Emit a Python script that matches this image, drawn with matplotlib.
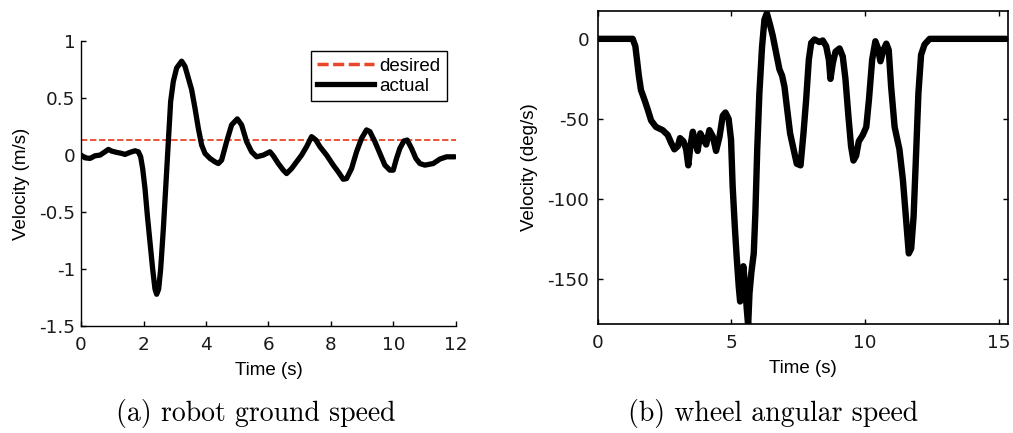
import matplotlib
matplotlib.use("Agg")
import matplotlib.pyplot as plt
from matplotlib.lines import Line2D

plt.rcParams["font.family"] = ["Liberation Sans", "DejaVu Sans"]
plt.rcParams["axes.unicode_minus"] = False

# (a) robot ground speed
ground_time = [0.0, 0.128, 0.288, 0.448, 0.608, 0.768, 0.875, 0.981, 1.141, 1.301,
               1.408, 1.568, 1.728, 1.835, 1.909, 1.973, 2.048, 2.123, 2.208, 2.293,
               2.368, 2.421, 2.485, 2.549, 2.635, 2.709, 2.795, 2.869, 2.955, 3.061,
               3.221, 3.328, 3.435, 3.541, 3.648, 3.755, 3.861, 3.968, 4.128, 4.288,
               4.395, 4.501, 4.661, 4.821, 5.003, 5.141, 5.301, 5.461, 5.621, 5.835,
               6.048, 6.155, 6.315, 6.475, 6.581, 6.741, 6.901, 7.061, 7.221, 7.381,
               7.52, 7.648, 7.861, 8.075, 8.235, 8.395, 8.501, 8.661, 8.821, 8.981,
               9.141, 9.248, 9.408, 9.568, 9.728, 9.888, 9.995, 10.101, 10.208, 10.336,
               10.443, 10.581, 10.72, 10.848, 11.008, 11.275, 11.488, 11.701, 11.968]
ground_actual = [0.0, -0.024, -0.029, -0.006, 0.0, 0.029, 0.05, 0.035, 0.024, 0.015,
                 0.006, 0.024, 0.038, 0.029, -0.015, -0.118, -0.294, -0.529, -0.765, -1.0,
                 -1.176, -1.221, -1.176, -1.0, -0.647, -0.294, 0.118, 0.471, 0.647, 0.765,
                 0.824, 0.779, 0.676, 0.574, 0.412, 0.235, 0.088, 0.015, -0.029, -0.059,
                 -0.074, -0.044, 0.118, 0.265, 0.318, 0.265, 0.118, 0.029, -0.015, 0.0,
                 0.029, -0.006, -0.074, -0.132, -0.162, -0.118, -0.059, 0.0, 0.074, 0.162,
                 0.132, 0.074, 0.0, -0.088, -0.147, -0.212, -0.206, -0.118, 0.029, 0.147,
                 0.221, 0.206, 0.118, 0.015, -0.088, -0.132, -0.132, -0.029, 0.059, 0.124,
                 0.132, 0.059, -0.029, -0.074, -0.088, -0.074, -0.035, -0.015, -0.015]
desired_time = [0.0, 12.0]
desired_speed = [0.13, 0.13]

# (b) wheel angular speed
wheel_time = [0.0, 1.31, 1.41, 1.47, 1.54, 1.62, 1.75, 1.87, 2.0, 2.18,
              2.43, 2.62, 2.75, 2.87, 3.0, 3.08, 3.21, 3.31, 3.39, 3.47,
              3.56, 3.66, 3.74, 3.84, 3.96, 4.06, 4.18, 4.31, 4.43, 4.56,
              4.68, 4.78, 4.9, 4.99, 5.05, 5.13, 5.2, 5.28, 5.33, 5.39,
              5.45, 5.53, 5.58, 5.63, 5.68, 5.75, 5.84, 5.9, 5.97, 6.05,
              6.15, 6.24, 6.33, 6.43, 6.55, 6.68, 6.8, 6.9, 6.99, 7.09,
              7.2, 7.33, 7.45, 7.59, 7.7, 7.8, 7.9, 7.99, 8.11, 8.3,
              8.42, 8.55, 8.65, 8.71, 8.8, 8.9, 9.05, 9.17, 9.27, 9.38,
              9.48, 9.57, 9.67, 9.77, 9.92, 10.05, 10.15, 10.27, 10.39, 10.48,
              10.58, 10.69, 10.8, 10.89, 10.98, 11.11, 11.29, 11.42, 11.54, 11.64,
              11.73, 11.82, 11.92, 12.0, 12.1, 12.23, 12.42, 15.29]
wheel_speed = [0, 0, -4.6, -13, -23, -32, -38, -44, -51, -55,
               -57, -60, -65, -69, -67, -62, -64, -69, -79, -67,
               -58, -65, -70, -59, -63, -66, -57, -61, -70, -61,
               -48, -46, -50, -63, -92, -117, -136, -155, -164, -150,
               -142, -157, -169, -179, -159, -146, -134, -109, -69, -34,
               -5, 12, 16, 10, 2, -9, -19, -23, -30, -44,
               -59, -69, -78, -79, -59, -38, -13, -2.5, -0.4, -2,
               -1, -4.6, -13, -25, -15, -8, -6, -11, -25, -48,
               -67, -76, -73, -64, -60, -55, -38, -13, -1.5, -5.6,
               -14, -7, -3, -7, -30, -55, -69, -88, -113, -134,
               -131, -111, -69, -34, -10, -3.5, 0, 0]

ground_xticks = [0, 2, 4, 6, 8, 10, 12]
ground_yticks = [-1.5, -1, -0.5, 0, 0.5, 1]
ground_yticklabels = ["-1.5", "-1", "-0.5", "0", "0.5", "1"]
wheel_xticks = [0, 5, 10, 15]
wheel_yticks = [-150, -100, -50, 0]

RED = "#E8472A"
FS = 13.5
TICK_FONT = "DejaVu Sans"
TICK_FS = 13.2


def style_ticklabels(ax):
    for lab in ax.get_xticklabels() + ax.get_yticklabels():
        lab.set_fontfamily(TICK_FONT)
        lab.set_fontsize(TICK_FS)
        lab.set_color("#1a1a1a")


fig = plt.figure(figsize=(10.13, 4.33), dpi=100)

# ---- left panel ----
ax1 = fig.add_axes([0.080, 0.247, 0.370, 0.658])
ax1.plot(desired_time, desired_speed, color=RED, lw=1.3, dashes=(3.5, 1.5))
ax1.plot(ground_time, ground_actual, color="black", lw=3.8,
         solid_joinstyle="round", solid_capstyle="round")
ax1.set_xlim(0, 12)
ax1.set_ylim(-1.5, 1)
ax1.set_xticks(ground_xticks)
ax1.set_yticks(ground_yticks)
ax1.set_yticklabels(ground_yticklabels)
ax1.spines["top"].set_visible(False)
ax1.spines["right"].set_visible(False)
for s in ("left", "bottom"):
    ax1.spines[s].set_linewidth(1.0)
ax1.tick_params(direction="in", length=3.5, width=1.0)
ax1.tick_params(axis="x", pad=7)
ax1.tick_params(axis="y", pad=4)
style_ticklabels(ax1)
ax1.set_xlabel("Time (s)", fontsize=FS, labelpad=6)
ax1.set_ylabel("Velocity (m/s)", fontsize=FS, labelpad=7)

handles = [Line2D([], [], color=RED, lw=2.5, dashes=(3.2, 1.3)),
           Line2D([], [], color="black", lw=3.8)]
leg = ax1.legend(handles, ["desired", "actual"], loc="upper right",
                 bbox_to_anchor=(0.976, 0.965), fontsize=FS, fancybox=False,
                 edgecolor="black", framealpha=1, handlelength=3.0,
                 handletextpad=0.3, borderpad=0.35, labelspacing=0.15,
                 borderaxespad=0)
leg.get_frame().set_linewidth(1.0)

# ---- right panel ----
ax2 = fig.add_axes([0.590, 0.252, 0.405, 0.723])
ax2.plot(wheel_time, wheel_speed, color="black", lw=4.6,
         solid_joinstyle="round", solid_capstyle="round")
ax2.set_xlim(0, 15.35)
ax2.set_ylim(-178, 17.5)
ax2.set_xticks(wheel_xticks)
ax2.set_yticks(wheel_yticks)
for s in ax2.spines.values():
    s.set_linewidth(1.2)
ax2.tick_params(direction="in", length=3.5, width=1.0, top=True, right=True)
ax2.tick_params(axis="x", pad=7)
ax2.tick_params(axis="y", pad=6)
style_ticklabels(ax2)
ax2.set_xlabel("Time (s)", fontsize=FS, labelpad=6)
ax2.set_ylabel("Velocity (deg/s)", fontsize=FS, labelpad=7)

# captions
fig.text(0.252, 0.046, "(a) robot ground speed", family="cmr10", fontsize=20,
         ha="center", va="center")
fig.text(0.763, 0.046, "(b) wheel angular speed", family="cmr10", fontsize=20,
         ha="center", va="center")

fig.savefig("out.png", dpi=100)
